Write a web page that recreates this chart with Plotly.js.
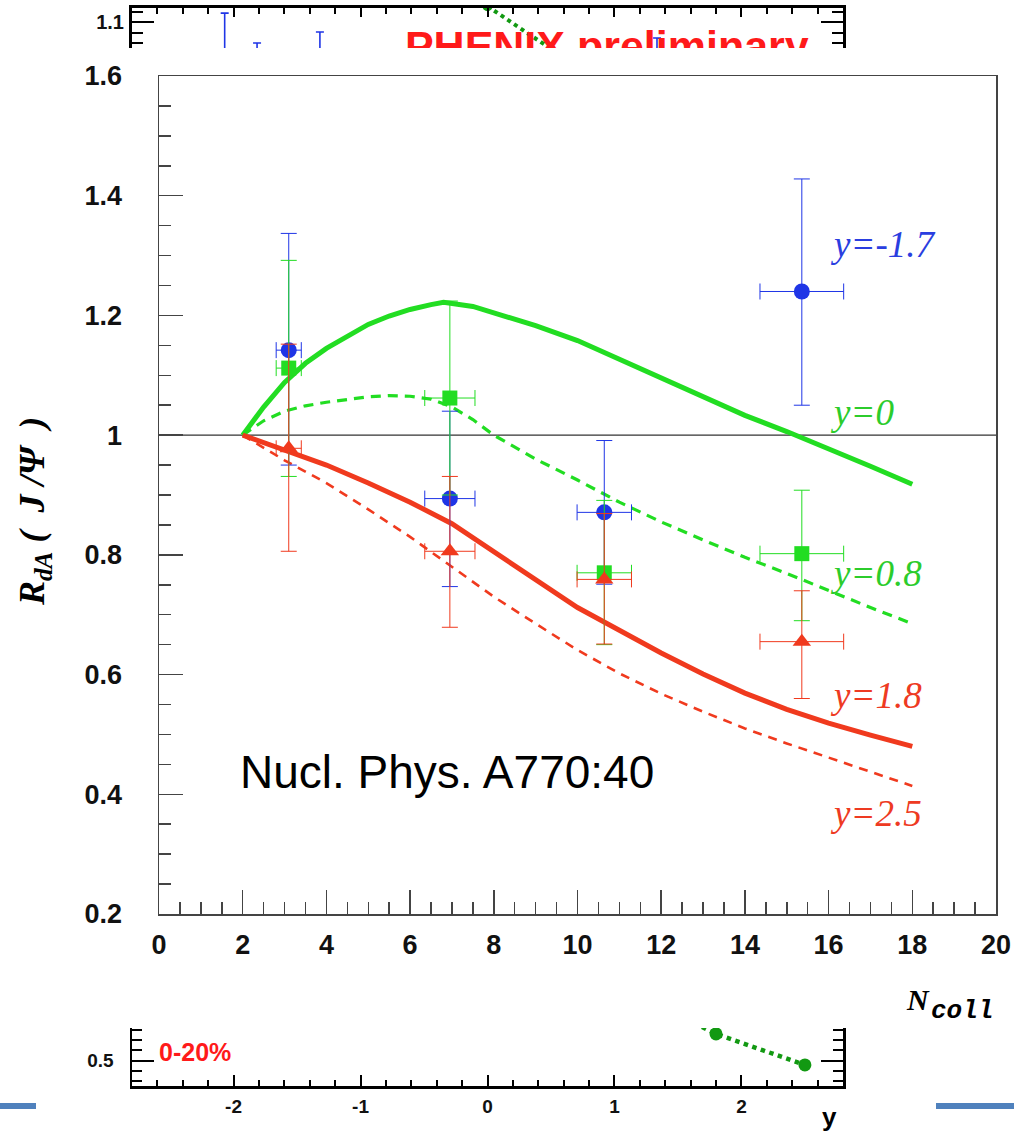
<!DOCTYPE html>
<html>
<head>
<meta charset="utf-8">
<script src="https://cdn.plot.ly/plotly-3.0.1.min.js"></script>
<style>html,body{margin:0;padding:0;background:#fff;}#chart{width:1014px;height:1132px;}</style>
</head>
<body>
<div id="chart"></div>
<script>
// ---------- main panel data ----------
const ncoll = [3.1, 6.95, 10.64, 15.36];
const ncollErr = [0.3, 0.6, 0.65, 1.0];

const rdaBack = [1.142, 0.894, 0.871, 1.240];      // y = -1.7
const rdaBackErrUp = [0.195, 0.146, 0.12, 0.188];
const rdaBackErrDn = [0.192, 0.147, 0.12, 0.19];

const rdaMid = [1.112, 1.062, 0.770, 0.802];       // y = 0
const rdaMidErrUp = [0.18, 0.162, 0.121, 0.106];
const rdaMidErrDn = [0.181, 0.162, 0.12, 0.112];

const rdaFwd = [0.978, 0.806, 0.759, 0.655];       // y = 1.8
const rdaFwdErrUp = [0.174, 0.125, 0.11, 0.085];
const rdaFwdErrDn = [0.172, 0.127, 0.108, 0.095];

// theory curves
const thY0x = [2, 2.5, 3, 3.5, 4, 4.5, 5, 5.5, 6, 6.5, 6.8, 7.5, 8, 9, 10, 11, 12, 13, 14, 15, 16, 17, 18];
const thY0  = [1.0, 1.047, 1.088, 1.12, 1.145, 1.166, 1.185, 1.199, 1.21, 1.218, 1.222, 1.215, 1.205, 1.183, 1.158, 1.127, 1.095, 1.063, 1.033, 1.006, 0.978, 0.948, 0.918];

const thY08x = [2, 2.5, 3, 3.5, 4, 4.5, 5, 5.5, 6, 6.5, 7, 7.5, 8, 9, 10, 11, 12, 13, 14, 15, 16, 17, 18];
const thY08  = [1.0, 1.024, 1.04, 1.049, 1.055, 1.06, 1.064, 1.066, 1.065, 1.06, 1.047, 1.026, 1.0, 0.96, 0.925, 0.888, 0.855, 0.825, 0.796, 0.769, 0.74, 0.712, 0.685];

const thY18x = [2, 3, 4, 5, 6, 7, 8, 9, 10, 11, 12, 13, 14, 15, 16, 17, 18];
const thY18  = [1.0, 0.976, 0.95, 0.92, 0.888, 0.852, 0.805, 0.757, 0.712, 0.674, 0.636, 0.601, 0.569, 0.542, 0.519, 0.499, 0.48];

const thY25x = [2, 3, 4, 5, 6, 7, 8, 9, 10, 11, 12, 13, 14, 15, 16, 17, 18];
const thY25  = [1.0, 0.958, 0.92, 0.876, 0.83, 0.78, 0.73, 0.685, 0.641, 0.602, 0.568, 0.538, 0.51, 0.485, 0.461, 0.437, 0.414];

const yTickVals = [0.2, 0.4, 0.6, 0.8, 1.0, 1.2, 1.4, 1.6];
const yTickText = ['0.2', '0.4', '0.6', '0.8', '1', '1.2', '1.4', '1.6'];
const curveLabels = ['y=-1.7', 'y=0', 'y=0.8', 'y=1.8', 'y=2.5'];

// ---------- clipped strips (neighbouring plots) ----------
const topBarsX = [-2.07, -1.815, -1.32, 1.335];
const topBarsY = [0.98, 0.95, 0.96, 0.97];
const topBarsErr = [0.137, 0.11, 0.121, 0.0995];
const topGreenX = [0, 0.8];
const topGreenY = [1.13, 1.0];
const botGreenX = [1.5, 1.8, 2.5];
const botGreenY = [0.95, 0.762, 0.458];
const rapTickVals = [-2, -1, 0, 1, 2];
const rapTickText = ['-2', '-1', '0', '1', '2'];

// ---------- geometry helpers (layout only) ----------
const W = 1014, H = 1132;
const px = v => v / W;
const py = v => 1 - v / H;

const BLUE = '#1f35e6', GREEN = '#22dd22', RED = '#f03a1e', DKGREEN = '#129912';

function pts(x, y, ex, eu, ed, color, symbol, size) {
  return {
    x: x, y: y, type: 'scatter', mode: 'markers', xaxis: 'x', yaxis: 'y',
    marker: {color: color, symbol: symbol, size: size, line: {width: 0}},
    error_x: {type: 'data', array: ex, symmetric: true, color: color, thickness: 1, width: 8},
    error_y: {type: 'data', array: eu, arrayminus: ed, symmetric: false, color: color, thickness: 1, width: 8},
    showlegend: false, hoverinfo: 'skip'
  };
}
function curve(x, y, color, width, dash) {
  return {x: x, y: y, type: 'scatter', mode: 'lines', xaxis: 'x', yaxis: 'y',
    line: {color: color, width: width, dash: dash, shape: 'linear'},
    showlegend: false, hoverinfo: 'skip'};
}

const traces = [
  // top strip
  {x: topBarsX, y: topBarsY, type: 'scatter', mode: 'markers', xaxis: 'x2', yaxis: 'y2',
   marker: {color: BLUE, size: 1},
   error_y: {type: 'data', array: topBarsErr, arrayminus: [0, 0, 0, 0], symmetric: false, color: BLUE, thickness: 1.6, width: 4},
   showlegend: false, hoverinfo: 'skip'},
  {x: topGreenX, y: topGreenY, type: 'scatter', mode: 'lines+markers', xaxis: 'x2', yaxis: 'y2',
   line: {color: DKGREEN, width: 4, dash: 'dot'}, marker: {color: DKGREEN, size: 10},
   showlegend: false, hoverinfo: 'skip'},
  {x: [0.94], y: [1.0457], type: 'scatter', mode: 'text', xaxis: 'x2', yaxis: 'y2',
   text: ['<b>PHENIX preliminary</b>'], textposition: 'middle center',
   textfont: {family: 'Liberation Sans', size: 43, color: '#ff1a1a'},
   cliponaxis: true, showlegend: false, hoverinfo: 'skip'},
  // bottom strip
  {x: botGreenX, y: botGreenY, type: 'scatter', mode: 'lines+markers', xaxis: 'x3', yaxis: 'y3',
   line: {color: DKGREEN, width: 4.5, dash: 'dot'}, marker: {color: DKGREEN, size: 13},
   showlegend: false, hoverinfo: 'skip'},
  // main curves
  curve(thY0x, thY0, GREEN, 5, 'solid'),
  curve(thY08x, thY08, GREEN, 3.2, '10px,7px'),
  curve(thY18x, thY18, RED, 5, 'solid'),
  curve(thY25x, thY25, RED, 2.6, '9px,7px'),
  // data points
  pts(ncoll, rdaBack, ncollErr, rdaBackErrUp, rdaBackErrDn, BLUE, 'circle', 16),
  pts(ncoll, rdaMid, ncollErr, rdaMidErrUp, rdaMidErrDn, GREEN, 'square', 15),
  pts(ncoll, rdaFwd, ncollErr, rdaFwdErrUp, rdaFwdErrDn, RED, 'triangle-up', 16)
];

const tickFont = {family: 'Liberation Sans', size: 27, color: '#111', weight: 'bold'};
const AX = '#444';

const layout = {
  width: W, height: H,
  margin: {l: 0, r: 0, t: 0, b: 0},
  paper_bgcolor: '#fff', plot_bgcolor: 'rgba(0,0,0,0)',
  showlegend: false,
  xaxis: {
    domain: [px(159), px(996)], range: [0, 20], anchor: 'y',
    tick0: 0, dtick: 2, ticks: 'inside', ticklen: 24, tickwidth: 1.5, tickcolor: AX,
    showline: true, linecolor: AX, linewidth: 1.5, mirror: true,
    showgrid: false, zeroline: false, tickfont: tickFont, ticklabelstandoff: 6,
    minor: {dtick: 0.5, ticks: 'inside', ticklen: 12, tickwidth: 1.5, tickcolor: AX, showgrid: false}
  },
  yaxis: {
    domain: [py(914), py(76)], range: [0.2, 1.6], anchor: 'x',
    tickvals: yTickVals, ticktext: yTickText,
    ticks: 'inside', ticklen: 24, tickwidth: 1.5, tickcolor: AX,
    showline: true, linecolor: AX, linewidth: 1.5, mirror: true,
    showgrid: false, zeroline: false, tickfont: tickFont, ticklabelstandoff: 30,
    minor: {dtick: 0.05, tick0: 0.2, ticks: 'inside', ticklen: 12, tickwidth: 1.5, tickcolor: AX, showgrid: false}
  },
  xaxis2: {
    domain: [px(132), px(843)], range: [-2.8, 2.8], anchor: 'y2', side: 'top',
    tick0: 0, dtick: 1, ticks: 'inside', ticklen: 9, tickwidth: 2, tickcolor: '#000',
    showline: true, linecolor: '#000', linewidth: 3, mirror: false,
    showticklabels: false, showgrid: false, zeroline: false,
    minor: {dtick: 0.2, ticks: 'inside', ticklen: 6, tickwidth: 2, tickcolor: '#000', showgrid: false}
  },
  yaxis2: {
    domain: [py(48), py(8)], range: [1.0505, 1.1267], anchor: 'x2',
    tickvals: [1.1], ticktext: ['1.1'],
    ticks: 'inside', ticklen: 22, tickwidth: 2, tickcolor: '#000',
    showline: true, linecolor: '#000', linewidth: 3, mirror: 'ticks',
    showgrid: false, zeroline: false,
    tickfont: {family: 'Liberation Sans', size: 20, color: '#111', weight: 'bold'}, ticklabelstandoff: 1,
    minor: {dtick: 0.02, tick0: 1.1, ticks: 'inside', ticklen: 11, tickwidth: 2, tickcolor: '#000', showgrid: false}
  },
  xaxis3: {
    domain: [px(132), px(843)], range: [-2.8, 2.8], anchor: 'y3',
    ticks: 'inside', ticklen: 11, tickwidth: 2, tickcolor: '#000',
    tickvals: rapTickVals, ticktext: rapTickText,
    showline: true, linecolor: '#000', linewidth: 3, mirror: false,
    showgrid: false, zeroline: false,
    tickfont: {family: 'Liberation Sans', size: 19, color: '#111', weight: 'bold'}, ticklabelstandoff: 1,
    minor: {dtick: 0.2, tick0: 0, ticks: 'inside', ticklen: 6, tickwidth: 2, tickcolor: '#000', showgrid: false}
  },
  yaxis3: {
    domain: [py(1086), py(1028)], range: [0.252, 0.82], anchor: 'x3',
    tickvals: [0.5], ticktext: ['0.5'],
    ticks: 'inside', ticklen: 22, tickwidth: 2, tickcolor: '#000',
    showline: true, linecolor: '#000', linewidth: 2.5, mirror: 'ticks',
    showgrid: false, zeroline: false,
    tickfont: {family: 'Liberation Sans', size: 19, color: '#111', weight: 'bold'}, ticklabelstandoff: 12,
    minor: {dtick: 0.1, tick0: 0.5, ticks: 'inside', ticklen: 10, tickwidth: 2, tickcolor: '#000', showgrid: false}
  },
  shapes: [
    {type: 'line', xref: 'x', yref: 'y', x0: 0, x1: 20, y0: 1, y1: 1, layer: 'below',
     line: {color: '#333', width: 1.2}},
    {type: 'rect', xref: 'paper', yref: 'paper', x0: 0, x1: px(36), y0: py(1109), y1: py(1103),
     fillcolor: '#4f81bd', line: {width: 0}},
    {type: 'rect', xref: 'paper', yref: 'paper', x0: px(936), x1: 1, y0: py(1109), y1: py(1103),
     fillcolor: '#4f81bd', line: {width: 0}}
  ],
  annotations: [
    {text: curveLabels[0], x: px(828), y: py(245), xref: 'paper', yref: 'paper', xanchor: 'left', yanchor: 'middle',
     showarrow: false, font: {family: 'Liberation Serif', size: 37, color: '#2a3ee0', style: 'italic'}},
    {text: curveLabels[1], x: px(828), y: py(413), xref: 'paper', yref: 'paper', xanchor: 'left', yanchor: 'middle',
     showarrow: false, font: {family: 'Liberation Serif', size: 37, color: '#2ccc2c', style: 'italic'}},
    {text: curveLabels[2], x: px(828), y: py(573), xref: 'paper', yref: 'paper', xanchor: 'left', yanchor: 'middle',
     showarrow: false, font: {family: 'Liberation Serif', size: 37, color: '#2ccc2c', style: 'italic'}},
    {text: curveLabels[3], x: px(828), y: py(695), xref: 'paper', yref: 'paper', xanchor: 'left', yanchor: 'middle',
     showarrow: false, font: {family: 'Liberation Serif', size: 37, color: '#ee3a22', style: 'italic'}},
    {text: curveLabels[4], x: px(828), y: py(813), xref: 'paper', yref: 'paper', xanchor: 'left', yanchor: 'middle',
     showarrow: false, font: {family: 'Liberation Serif', size: 37, color: '#ee3a22', style: 'italic'}},
    {text: 'Nucl. Phys. A770:40', x: px(238), y: py(772), xref: 'paper', yref: 'paper', xanchor: 'left', yanchor: 'middle',
     showarrow: false, font: {family: 'Liberation Sans', size: 46, color: '#000'}},
    {text: '<b><i>R</i></b><sub><b><i>dA</i></b></sub><b><i> (  J /Ψ  )</i></b>', x: px(34), y: py(512),
     xref: 'paper', yref: 'paper', xanchor: 'center', yanchor: 'middle', textangle: -90,
     showarrow: false, font: {family: 'Liberation Serif', size: 36, color: '#000'}},
    {text: 'N', x: px(918), y: py(1000), xref: 'paper', yref: 'paper', xanchor: 'center', yanchor: 'middle',
     showarrow: false, font: {family: 'Liberation Serif', size: 30, color: '#000', weight: 'bold', style: 'italic'}},
    {text: 'coll', x: px(929), y: py(1011), xref: 'paper', yref: 'paper', xanchor: 'left', yanchor: 'middle',
     showarrow: false, font: {family: 'Liberation Mono', size: 26, color: '#000', weight: 'bold', style: 'italic'}},
    {text: '0-20%', x: px(157), y: py(1052), xref: 'paper', yref: 'paper', xanchor: 'left', yanchor: 'middle',
     showarrow: false, font: {family: 'Liberation Sans', size: 25, color: '#ff1a1a', weight: 'bold'}},
    {text: 'y', x: px(829), y: py(1117), xref: 'paper', yref: 'paper', xanchor: 'center', yanchor: 'middle',
     showarrow: false, font: {family: 'Liberation Sans', size: 26, color: '#000', weight: 'bold'}}
  ]
};

Plotly.newPlot('chart', traces, layout, {staticPlot: true, displayModeBar: false});
</script>
</body>
</html>
